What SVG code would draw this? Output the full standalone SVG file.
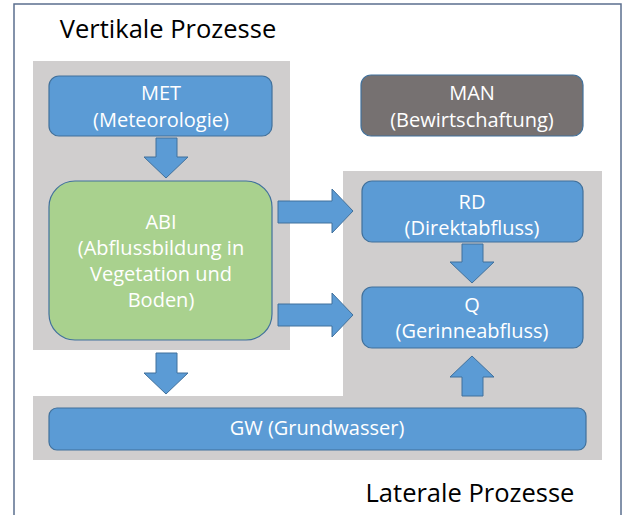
<svg xmlns="http://www.w3.org/2000/svg" width="626" height="515" viewBox="0 0 626 515">
<style>
.frame{fill:#fff;stroke:#5b6f8f;stroke-width:1.5}
.zone{fill:#d0cece}
.box{fill:#5b9bd5;stroke:#41719c;stroke-width:1.2}
.abi{fill:#a9d18e;stroke:#41719c;stroke-width:1.2}
.man{fill:#767171;stroke:#41719c;stroke-width:1.2}
.arr{fill:#5b9bd5;stroke:#41719c;stroke-width:1}
.t{font-family:"Open Sans","Liberation Sans",sans-serif;font-size:20px;fill:#fff;text-anchor:middle}
.title{font-family:"Open Sans","Liberation Sans",sans-serif;font-size:25.5px;fill:#000;text-anchor:middle}
</style>
<rect class="frame" x="14" y="4" width="607" height="520"/>
<g id="zones">
<rect class="zone" x="33" y="61" width="257" height="289"/>
<path class="zone" d="M343 171 H602 V460 H33 V396 H343 Z"/>
</g>
<text class="title" x="168" y="38">Vertikale Prozesse</text>
<text class="title" x="470" y="502">Laterale Prozesse</text>
<g id="connectors">
<path class="arr" d="M156 138 H177 V157 H188 L166 178 L144 157 H156 Z"/>
<path class="arr" d="M156 353 H177 V373 H188 L166 394 L144 373 H156 Z"/>
<path class="arr" d="M278 201 H332 V189 L353 211 L332 233 V223 H278 Z"/>
<path class="arr" d="M278 304 H332 V293 L353 315 L332 337 V326 H278 Z"/>
<path class="arr" d="M462 244 H483 V262 H494 L472 283 L450 262 H462 Z"/>
<path class="arr" d="M462 396 V377 H450 L472 356 L494 377 H483 V396 Z"/>
</g>
<g id="MET">
<rect class="box" x="49" y="76" width="223" height="60" rx="10"/>
<text class="t" x="161" y="100">MET</text>
<text class="t" x="161" y="127">(Meteorologie)</text>
</g>
<g id="ABI">
<rect class="abi" x="49" y="181" width="223" height="159" rx="26"/>
<text class="t" x="161" y="229">ABI</text>
<text class="t" x="161" y="255">(Abflussbildung in</text>
<text class="t" x="161" y="281">Vegetation und</text>
<text class="t" x="161" y="307">Boden)</text>
</g>
<g id="MAN">
<rect class="man" x="361" y="75" width="222" height="61" rx="10"/>
<text class="t" x="472" y="100">MAN</text>
<text class="t" x="472" y="127">(Bewirtschaftung)</text>
</g>
<g id="RD">
<rect class="box" x="362" y="181" width="221" height="61" rx="10"/>
<text class="t" x="472" y="209">RD</text>
<text class="t" x="472" y="235">(Direktabfluss)</text>
</g>
<g id="Q">
<rect class="box" x="362" y="287" width="221" height="61" rx="10"/>
<text class="t" x="472" y="312">Q</text>
<text class="t" x="472" y="338">(Gerinneabfluss)</text>
</g>
<g id="GW">
<rect class="box" x="49" y="408" width="537" height="42" rx="8"/>
<text class="t" x="317" y="435">GW (Grundwasser)</text>
</g>
</svg>
